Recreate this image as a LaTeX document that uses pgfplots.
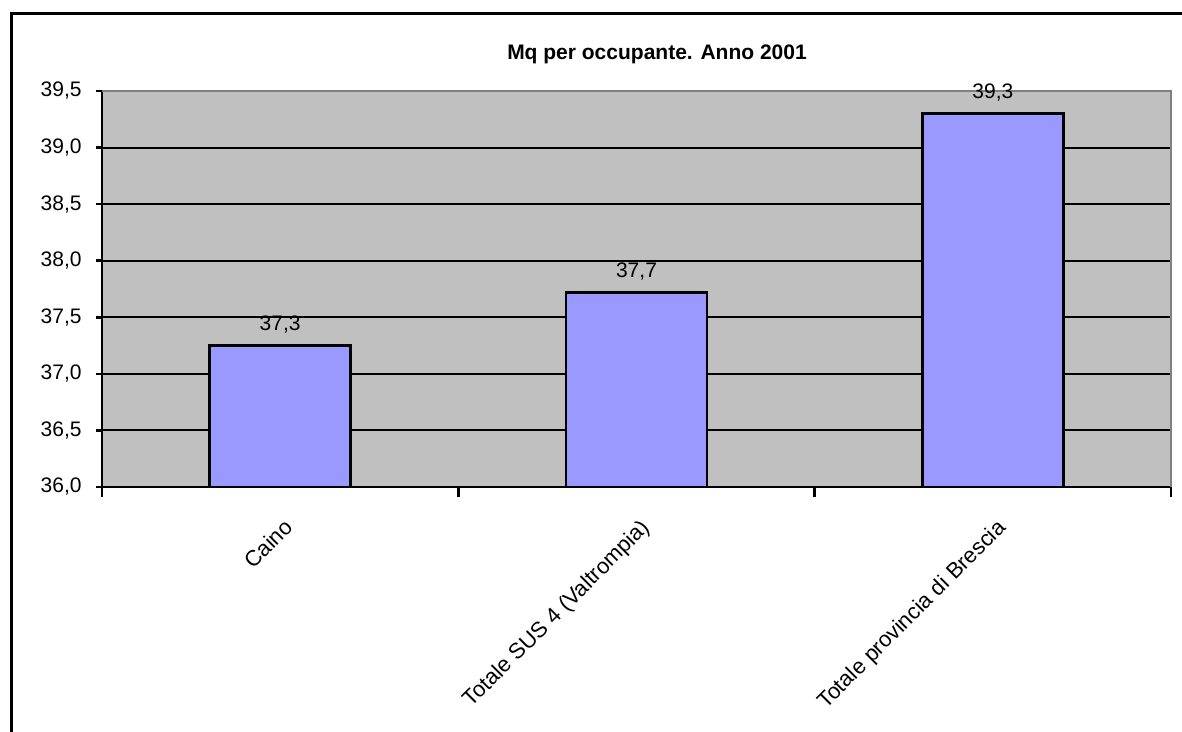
\documentclass[border=0pt]{standalone}
\usepackage{fontspec}
\setmainfont{Liberation Sans}
\usepackage{pgfplots}
\pgfplotsset{compat=1.18}
\usepackage{pgfplotstable}
\definecolor{plotbg}{HTML}{C0C0C0}
\definecolor{barfill}{HTML}{9999FF}
\definecolor{bordergray}{HTML}{808080}
\pgfplotstableread{
x y label
0 37.25 37,3
1 37.72 37,7
2 39.30 39,3
}\datatable
\begin{document}
\fontsize{10.5}{12.6}\selectfont
\begin{tikzpicture}[x=1pt,y=1pt]
\useasboundingbox (0,0) rectangle (591,366);
\draw[line width=1.3pt] (5.75,-3) -- (5.75,359.25) -- (595,359.25);
\node[font=\bfseries] at (328.5,339) {Mq per occupante. Anno 2001};
\begin{axis}[
  at={(51pt,122.5pt)}, anchor=south west,
  scale only axis, width=534.5pt, height=198pt,
  xmin=-0.5, xmax=2.5, ymin=36, ymax=39.5,
  axis lines*=left,
  axis line style={black, line width=1.3pt},
  axis background/.style={fill=plotbg},
  ytick={36,36.5,37,37.5,38,38.5,39,39.5},
  yticklabel style={xshift=-3.5pt, /pgf/number format/.cd, fixed, fixed zerofill, precision=1, use comma, assume math mode=true},
  xtick={0,1,2},
  xticklabels={Caino, Totale SUS 4 (Valtrompia), Totale provincia di Brescia},
  xticklabel style={rotate=45, anchor=north east, yshift=-6pt, xshift=-4pt, font=\fontsize{11}{13}\selectfont},
  minor xtick={-0.5,0.5,1.5,2.5},
  major x tick style={draw=none},
  tick align=outside,
  major tick length=3pt,
  minor tick length=5pt,
  tick style={black, line width=1.3pt},
  ymajorgrids,
  grid style={black, line width=1pt},
  clip=false,
]
\addplot[ybar, bar width=70.5pt, bar shift=0pt, fill=barfill, draw=black, line width=1.3pt,
  nodes near coords, point meta=explicit symbolic,
  every node near coord/.append style={black, yshift=2pt}]
  table[x=x, y=y, meta=label] {\datatable};
\draw[bordergray, line width=1.3pt] (rel axis cs:0,1) -- (rel axis cs:1,1) -- (rel axis cs:1,0);
\end{axis}
\end{tikzpicture}
\end{document}
